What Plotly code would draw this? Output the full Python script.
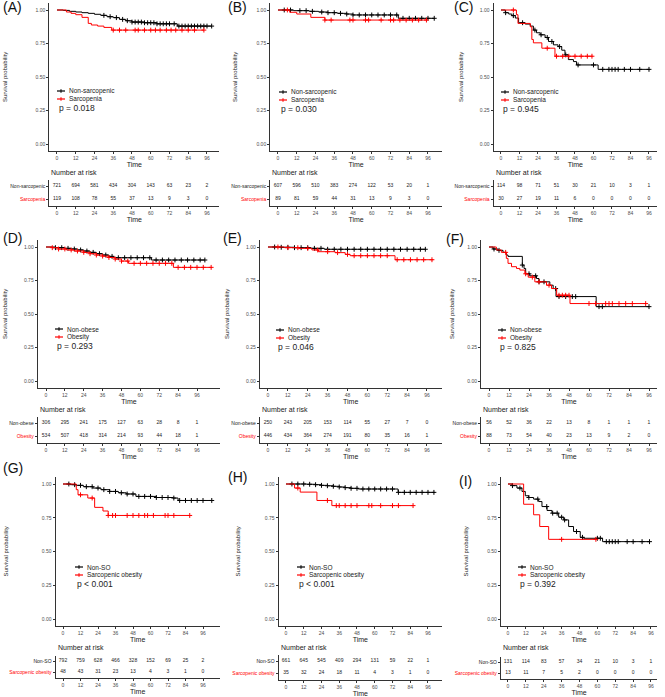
import plotly.graph_objects as go

W, H = 665, 697
RED = "#FF0000"
BLK = "#000000"
FONT = "Liberation Sans, Arial, sans-serif"

# ---------------- data ----------------
panel_tags = ["(A)", "(B)", "(C)", "(D)", "(E)", "(F)", "(G)", "(H)", "(I)"]
black_names = ["Non-sarcopenic"] * 3 + ["Non-obese"] * 3 + ["Non-SO"] * 3
red_names = ["Sarcopenia"] * 3 + ["Obesity"] * 3 + ["Sarcopenic obesity"] * 3
p_texts = ["p = 0.018", "p = 0.030", "p = 0.945", "p = 0.293", "p = 0.046",
           "p = 0.825", "p < 0.001", "p < 0.001", "p = 0.392"]
risk_times = [0, 12, 24, 36, 48, 60, 72, 84, 96]

a_risk_black = [721, 694, 581, 434, 304, 143, 63, 23, 2]
a_risk_red = [119, 108, 78, 55, 37, 13, 9, 3, 0]
b_risk_black = [607, 596, 510, 383, 274, 122, 53, 20, 1]
b_risk_red = [89, 81, 59, 44, 31, 13, 9, 3, 0]
c_risk_black = [114, 98, 71, 51, 30, 21, 10, 3, 1]
c_risk_red = [30, 27, 19, 11, 6, 0, 0, 0, 0]
d_risk_black = [306, 295, 241, 175, 127, 63, 28, 8, 1]
d_risk_red = [534, 507, 418, 314, 214, 93, 44, 18, 1]
e_risk_black = [250, 243, 205, 153, 114, 55, 27, 7, 0]
e_risk_red = [446, 434, 364, 274, 191, 80, 35, 16, 1]
f_risk_black = [56, 52, 36, 22, 13, 8, 1, 1, 1]
f_risk_red = [88, 73, 54, 40, 23, 13, 9, 2, 0]
g_risk_black = [792, 759, 628, 466, 328, 152, 69, 25, 2]
g_risk_red = [48, 43, 31, 23, 13, 4, 3, 1, 0]
h_risk_black = [661, 645, 545, 409, 294, 131, 59, 22, 1]
h_risk_red = [35, 32, 24, 18, 11, 4, 3, 1, 0]
i_risk_black = [131, 114, 83, 57, 34, 21, 10, 3, 1]
i_risk_red = [13, 11, 7, 5, 2, 0, 0, 0, 0]

# survival steps (time, probability), plus censor times
a_black_t = [0, 4, 8, 12, 16, 20, 24, 28, 32, 36, 40, 44, 48, 56, 64, 77, 99]
a_black_s = [1, 0.997, 0.99, 0.985, 0.98, 0.975, 0.968, 0.96, 0.95, 0.943, 0.93, 0.92, 0.91, 0.905, 0.897, 0.88, 0.88]
a_black_c = [30, 34, 38, 42, 45, 48, 50, 52, 54, 56, 58, 60, 62, 64, 66, 68, 70, 72, 75, 78, 80, 82, 84, 86, 88, 90, 92, 94, 96, 99]
a_red_t = [0, 6, 9, 12, 16, 20, 22, 26, 30, 35, 94]
a_red_s = [1, 0.985, 0.975, 0.965, 0.945, 0.90, 0.888, 0.88, 0.87, 0.85, 0.85]
a_red_c = [36, 40, 44, 50, 52, 56, 60, 63, 66, 70, 73, 76, 80, 84, 88, 94]

b_black_t = [0, 10, 20, 26, 32, 38, 44, 48, 77, 100]
b_black_s = [1, 0.995, 0.99, 0.985, 0.98, 0.975, 0.97, 0.963, 0.938, 0.938]
b_black_c = [4, 8, 14, 18, 22, 28, 32, 36, 40, 44, 48, 52, 56, 60, 64, 68, 72, 76, 80, 84, 88, 92, 96, 100]
b_red_t = [0, 7.5, 12, 21, 30, 95]
b_red_s = [1, 0.983, 0.97, 0.945, 0.925, 0.925]
b_red_c = [6, 30, 34, 46, 48, 56, 58, 66, 72, 74, 78, 82, 86, 90, 95]

c_black_t = [0, 2.8, 5, 7, 9.3, 11.4, 15.7, 19, 21, 23, 25.4, 28.6, 30.8, 34, 37, 39.4, 41.5, 43.7, 47, 49, 63, 96.4]
c_black_s = [1, 0.98, 0.97, 0.958, 0.94, 0.905, 0.895, 0.88, 0.85, 0.83, 0.815, 0.795, 0.765, 0.74, 0.727, 0.70, 0.665, 0.63, 0.615, 0.59, 0.557, 0.557]
c_black_c = [3, 8, 14, 22, 26, 30, 33, 38, 42, 50, 60, 66, 70, 72, 74, 76, 80, 84, 90, 96]
c_red_t = [0, 10, 11, 19, 20, 21, 26.5, 35, 59.4]
c_red_s = [1, 0.965, 0.90, 0.875, 0.78, 0.755, 0.715, 0.655, 0.655]
c_red_c = [8, 30, 36, 40, 44, 48, 52, 56, 59]

d_black_t = [0, 6, 12, 16, 20, 24, 28, 32, 36, 40, 43, 67, 101]
d_black_s = [1, 0.995, 0.99, 0.985, 0.978, 0.97, 0.96, 0.95, 0.94, 0.93, 0.92, 0.903, 0.903]
d_black_c = [6, 10, 14, 18, 22, 26, 30, 34, 38, 42, 46, 50, 54, 58, 62, 66, 70, 74, 78, 82, 86, 90, 94, 98, 101]
d_red_t = [0, 4, 8, 13, 18, 24, 28, 32, 36, 40, 44, 48, 52.5, 81, 105.5]
d_red_s = [1, 0.995, 0.985, 0.978, 0.97, 0.96, 0.95, 0.94, 0.932, 0.922, 0.91, 0.895, 0.878, 0.848, 0.848]
d_red_c = [4, 8, 12, 16, 20, 24, 28, 32, 36, 40, 44, 48, 52, 56, 60, 64, 68, 72, 76, 80, 84, 88, 92, 96, 100, 105]

e_black_t = [0, 8, 16, 26, 34, 95]
e_black_s = [1, 0.998, 0.995, 0.99, 0.983, 0.983]
e_black_c = [4, 8, 12, 16, 20, 24, 28, 32, 36, 40, 44, 48, 52, 56, 60, 64, 68, 72, 76, 80, 84, 88, 92, 95]
e_red_t = [0, 10, 18.5, 26.5, 30.5, 40.5, 46.6, 49.6, 76.7, 99.8]
e_red_s = [1, 0.995, 0.99, 0.978, 0.965, 0.958, 0.945, 0.935, 0.905, 0.905]
e_red_c = [6, 12, 18, 24, 30, 36, 42, 48, 52, 56, 60, 64, 68, 72, 78, 82, 86, 90, 94, 99]

f_black_t = [0, 2.4, 5.4, 8.4, 10.4, 11.4, 20, 21, 22, 24.5, 28.5, 30, 36.5, 38.5, 40.2, 64.3, 96]
f_black_s = [1, 0.985, 0.975, 0.96, 0.94, 0.93, 0.865, 0.84, 0.80, 0.785, 0.765, 0.74, 0.715, 0.69, 0.63, 0.555, 0.555]
f_black_c = [3, 6, 20, 24, 28, 30, 33, 40, 42, 46, 50, 52, 66, 68, 96]
f_red_t = [0, 4.4, 7.4, 10.4, 11.4, 13.5, 16.5, 18.5, 21.5, 23.5, 27.5, 34.5, 37.5, 40.6, 48.6, 94.4]
f_red_s = [1, 0.978, 0.96, 0.915, 0.878, 0.853, 0.84, 0.828, 0.80, 0.775, 0.74, 0.715, 0.69, 0.64, 0.578, 0.578]
f_red_c = [10, 22, 26, 30, 36, 42, 44, 46, 48, 60, 64, 70, 72, 74, 78, 82, 86, 94]

g_black_t = [0, 5, 9, 14, 20.6, 26, 32, 38, 43.4, 50, 64, 75.4, 78.9, 102.4]
g_black_s = [1, 0.995, 0.99, 0.98, 0.97, 0.958, 0.945, 0.935, 0.926, 0.908, 0.90, 0.896, 0.878, 0.878]
g_black_c = [4, 8, 12, 16, 20, 24, 28, 32, 36, 40, 44, 48, 52, 56, 60, 64, 68, 72, 76, 80, 84, 88, 92, 96, 102]
g_red_t = [0, 9.1, 10.3, 17, 21.7, 27.4, 31, 86.9]
g_red_s = [1, 0.958, 0.92, 0.896, 0.827, 0.80, 0.767, 0.767]
g_red_c = [12, 20, 31, 34, 36, 44, 48, 52, 56, 58, 62, 70, 72, 76, 86.9]

h_black_t = [0, 14, 20, 24, 28, 32, 36, 40, 44, 48.9, 75.8, 100.5]
h_black_s = [1, 0.998, 0.995, 0.99, 0.987, 0.983, 0.978, 0.973, 0.968, 0.963, 0.938, 0.938]
h_black_c = [4, 8, 12, 16, 20, 24, 28, 32, 36, 40, 44, 48, 52, 56, 60, 64, 68, 72, 76, 80, 84, 88, 92, 96, 100]
h_red_t = [0, 5.8, 9.6, 20.9, 31, 85.9]
h_red_s = [1, 0.97, 0.94, 0.878, 0.84, 0.84]
h_red_c = [8, 28, 34, 36, 40, 44, 48, 56, 58, 64, 72, 76, 85.9]

i_black_t = [0, 2.7, 6, 9.4, 11.6, 13.9, 17.2, 20.6, 22.8, 26.2, 29.5, 34, 37.4, 40.7, 44, 48.5, 50.8, 63.5, 95.5]
i_black_s = [1, 0.988, 0.97, 0.945, 0.913, 0.90, 0.888, 0.87, 0.833, 0.804, 0.784, 0.754, 0.734, 0.685, 0.648, 0.605, 0.598, 0.573, 0.573]
i_black_c = [3, 8, 14, 20, 26, 30, 33, 36, 38, 46, 50, 60, 62, 66, 68, 70, 72, 74, 80, 84, 90, 95]
i_red_t = [0, 10.5, 17.2, 21.3, 27.3, 59.3]
i_red_s = [1, 0.85, 0.772, 0.685, 0.59, 0.59]
i_red_c = [36, 59]

panels = [
    (a_black_t, a_black_s, a_black_c, a_red_t, a_red_s, a_red_c, a_risk_black, a_risk_red),
    (b_black_t, b_black_s, b_black_c, b_red_t, b_red_s, b_red_c, b_risk_black, b_risk_red),
    (c_black_t, c_black_s, c_black_c, c_red_t, c_red_s, c_red_c, c_risk_black, c_risk_red),
    (d_black_t, d_black_s, d_black_c, d_red_t, d_red_s, d_red_c, d_risk_black, d_risk_red),
    (e_black_t, e_black_s, e_black_c, e_red_t, e_red_s, e_red_c, e_risk_black, e_risk_red),
    (f_black_t, f_black_s, f_black_c, f_red_t, f_red_s, f_red_c, f_risk_black, f_risk_red),
    (g_black_t, g_black_s, g_black_c, g_red_t, g_red_s, g_red_c, g_risk_black, g_risk_red),
    (h_black_t, h_black_s, h_black_c, h_red_t, h_red_s, h_red_c, h_risk_black, h_risk_red),
    (i_black_t, i_black_s, i_black_c, i_red_t, i_red_s, i_red_c, i_risk_black, i_risk_red),
]

# ---------------- layout geometry (screen pixels) ----------------
# x of t=0, x of t=96, y of S=1, y of S=0, y of risk row 1, y of risk row 2
geo = [
    (57, 207, 10, 144, 186, 199),
    (278, 428, 10, 144, 186, 199),
    (501, 649, 10, 144, 186, 199),
    (46, 197, 247, 381, 423, 436),
    (268, 427, 247, 381, 423, 436),
    (489, 649, 247, 381, 423, 436),
    (63, 203, 484, 619, 661, 672),
    (286, 428, 484, 619, 661, 673),
    (508, 651, 484, 619, 662, 673),
]
ytitle_x = [5, 235, 461, 5, 227, 452, 5, 237, 465]
key_pos = [(57, 91), (279, 92), (501, 92), (55, 329), (276, 330), (498, 330),
           (75, 567), (297, 567), (518, 567)]
tag_pos = [(1, 7), (226, 7), (452, 7), (1, 238), (221, 238), (444, 239),
           (1, 468), (226, 477), (457, 481)]
nrisk_y = [172, 172, 172, 409, 409, 409, 647, 647, 647]


def px(x):
    return x / W


def py(y):
    return 1 - y / H


def step_at(ts, ss, t):
    v = ss[0]
    for ti, si in zip(ts, ss):
        if ti <= t:
            v = si
    return v


fig = go.Figure()
layout = {}
annotations = []
shapes = []

axis_common = dict(showline=True, linecolor="#333", linewidth=1, ticks="outside",
                   ticklen=2, tickcolor="#333", tickwidth=1, showgrid=False,
                   zeroline=False, tickfont=dict(size=5, color="#4d4d4d", family=FONT))


def note(text, x, y, size, color="#222", xanchor="left", **kw):
    annotations.append(dict(text=text, x=x, y=y, xref="paper", yref="paper",
                            xanchor=xanchor, yanchor="middle", showarrow=False,
                            font=dict(size=size, color=color, family=FONT), **kw))


for k, pan in enumerate(panels):
    bt, bs, bc, rt, rs, rc, rb, rr = pan
    p0, p96, y1, y0, r1, r2 = geo[k]
    tmax = max(bt[-1], rt[-1])
    sc = (p96 - p0) / 96
    xlo, xhi = -0.05 * tmax, 1.05 * tmax
    left_px = max(p0 + xlo * sc, 0)
    right_px = min(p0 + xhi * sc, W)
    xlo, xhi = (left_px - p0) / sc, (right_px - p0) / sc
    xdom = [px(left_px), px(right_px)]

    hs = y0 - y1
    top_px = max(y1 - 0.05 * hs, 0)
    bot_px = y0 + 0.05 * hs
    yrange = [-(bot_px - y0) / hs, 1 + (y1 - top_px) / hs]
    ydom = [py(bot_px), py(top_px)]
    d = r2 - r1
    tdom = [py(r2 + 0.55 * d), py(r1 - 0.5 * d)]

    n1, n2 = 2 * k + 1, 2 * k + 2
    xa1 = "x" if n1 == 1 else f"x{n1}"
    ya1 = "y" if n1 == 1 else f"y{n1}"
    xa2, ya2 = f"x{n2}", f"y{n2}"

    layout["xaxis" if n1 == 1 else f"xaxis{n1}"] = dict(
        axis_common, domain=xdom, range=[xlo, xhi], anchor=ya1,
        tickvals=risk_times, title=dict(text="Time", standoff=0,
                                        font=dict(size=7, color="#222", family=FONT)))
    layout["yaxis" if n1 == 1 else f"yaxis{n1}"] = dict(
        axis_common, domain=ydom, range=yrange, anchor=xa1,
        tickvals=[0, 0.25, 0.5, 0.75, 1],
        ticktext=["0.00", "0.25", "0.50", "0.75", "1.00"])
    layout[f"xaxis{n2}"] = dict(
        axis_common, domain=xdom, range=[xlo, xhi], anchor=ya2,
        tickvals=risk_times, title=dict(text="Time", standoff=0,
                                        font=dict(size=7, color="#222", family=FONT)))
    layout[f"yaxis{n2}"] = dict(
        axis_common, domain=tdom, range=[-0.55, 1.5], anchor=xa2,
        tickvals=[1, 0],
        ticktext=[black_names[k], f"<span style='color:{RED}'>{red_names[k]}</span>"],
        tickfont=dict(size=5, color="#222", family=FONT))

    # curves
    for ts, ss, cs, col in [(bt, bs, bc, BLK), (rt, rs, rc, RED)]:
        fig.add_trace(go.Scatter(x=ts, y=ss, mode="lines", line_shape="hv",
                                 line=dict(color=col, width=1), xaxis=xa1, yaxis=ya1,
                                 showlegend=False, hoverinfo="skip", cliponaxis=False))
        fig.add_trace(go.Scatter(x=cs, y=[step_at(ts, ss, c) for c in cs], mode="markers",
                                 marker=dict(symbol="cross-thin", size=3.5,
                                             line=dict(color=col, width=1)),
                                 xaxis=xa1, yaxis=ya1, showlegend=False, hoverinfo="skip",
                                 cliponaxis=False))
    # risk table
    for vals, yv in [(rb, 1), (rr, 0)]:
        fig.add_trace(go.Scatter(x=risk_times, y=[yv] * len(risk_times), mode="text",
                                 text=[str(v) for v in vals],
                                 textfont=dict(size=5, color="#222", family=FONT),
                                 xaxis=xa2, yaxis=ya2, showlegend=False,
                                 hoverinfo="skip", cliponaxis=False))

    # y title
    note("Survival probability", px(ytitle_x[k]), py((y0 + y1) / 2), 6,
         xanchor="center", textangle=-90)
    # legend keys (line with a censor cross) and labels
    kx, ky = key_pos[k]
    for j, (nm, col) in enumerate([(black_names[k], BLK), (red_names[k], RED)]):
        yy = ky + 8 * j
        shapes.append(dict(type="line", xref="paper", yref="paper", x0=px(kx), x1=px(kx + 8),
                           y0=py(yy), y1=py(yy), line=dict(color=col, width=1.2)))
        shapes.append(dict(type="line", xref="paper", yref="paper", x0=px(kx + 4), x1=px(kx + 4),
                           y0=py(yy - 1.8), y1=py(yy + 1.8), line=dict(color=col, width=1)))
        note(nm, px(kx + 10), py(yy), 6.5)
    note(p_texts[k], px(kx), py(ky + 17), 8.5)
    # number at risk
    note("Number at risk", xdom[0], py(nrisk_y[k]), 7)
    # panel tag
    tx, ty = tag_pos[k]
    note(panel_tags[k], px(tx), py(ty), 14, color="#111")

fig.update_layout(width=W, height=H, margin=dict(l=0, r=0, t=0, b=0),
                  paper_bgcolor="white", plot_bgcolor="white",
                  annotations=annotations, shapes=shapes, **layout)

# drop the browser's default 8px body margin so the figure sits at the page corner
fig.write_html("out.html", config={"displayModeBar": False},
               post_script="document.body.style.margin='0';")
